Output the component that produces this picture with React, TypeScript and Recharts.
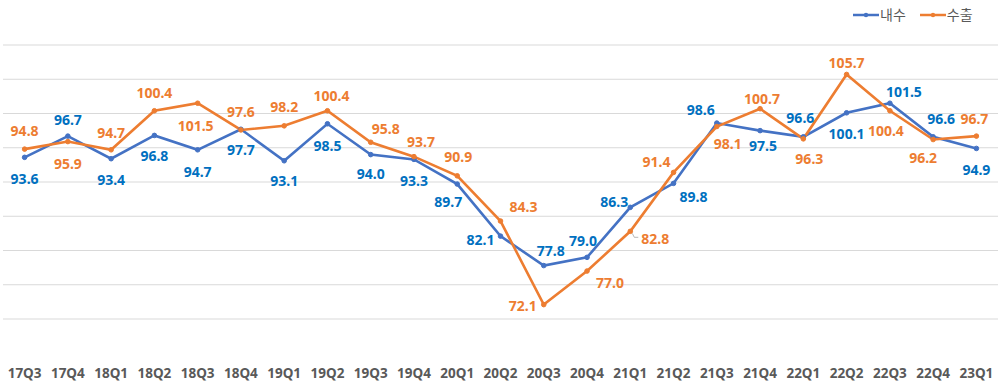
import { CartesianGrid, LabelList, Line, LineChart, XAxis, YAxis } from "recharts";

const quarters = [
  "17Q3", "17Q4", "18Q1", "18Q2", "18Q3", "18Q4", "19Q1", "19Q2", "19Q3", "19Q4", "20Q1", "20Q2",
  "20Q3", "20Q4", "21Q1", "21Q2", "21Q3", "21Q4", "22Q1", "22Q2", "22Q3", "22Q4", "23Q1",
];

const domestic = [
  93.6, 96.7, 93.4, 96.8, 94.7, 97.7, 93.1, 98.5, 94.0, 93.3, 89.7, 82.1,
  77.8, 79.0, 86.3, 89.8, 98.6, 97.5, 96.6, 100.1, 101.5, 96.6, 94.9,
];

const exports = [
  94.8, 95.9, 94.7, 100.4, 101.5, 97.6, 98.2, 100.4, 95.8, 93.7, 90.9, 84.3,
  72.1, 77.0, 82.8, 91.4, 98.1, 100.7, 96.3, 105.7, 100.4, 96.2, 96.7,
];

const yTicks = [70, 75, 80, 85, 90, 95, 100, 105, 110];

const rows = quarters.map((q, i) => ({ q, domestic: domestic[i], exports: exports[i] }));

const BLUE = "#4472C4";
const BLUE_TEXT = "#0070C0";
const ORANGE = "#ED7D31";
const FONT = "'Noto Sans', 'Noto Sans CJK KR', sans-serif";

// label placement relative to each point [dx, dy] (excel-style manual positioning)
const blueOffsets: [number, number][] = [
  [0, 22], [0, -16], [0, 21], [0, 21], [0, 22], [0, 21], [0, 20], [0, 22], [0, 19], [0, 22], [-9, 18], [-20, 4],
  [7, -14], [-4, -16], [-16, -5], [20, 14], [-16, -13], [3, 15], [-3, -19], [0, 21], [14, -11], [8, -18], [0, 22],
];
const orangeOffsets: [number, number][] = [
  [0, -18], [0, 23], [0, -17], [0, -18], [-2, 23], [0, -18], [0, -19], [4, -15], [15, -13], [7, -15], [1, -19], [23, -14],
  [-21, 1], [23, 12], [25, 8], [-17, -10], [11, 18], [2, -10], [6, 20], [0, -11], [-4, 20], [-10, 19], [-2, -17],
];

function makeLabel(offsets: [number, number][], color: string, leaderAt: number[] = []) {
  return (props: any) => {
    const { x, y, value, index } = props;
    const [dx, dy] = offsets[index] ?? [0, -16];
    return (
      <g>
        {leaderAt.includes(index) && (
          <polyline
            points={`${x + 2},${y + 2} ${x + 4},${y + 6} ${x + 8},${y + 6}`}
            fill="none"
            stroke="#a6a6a6"
            strokeWidth={0.8}
          />
        )}
        <text
          x={x + dx}
          y={y + dy}
          dy="0.35em"
          textAnchor="middle"
          fill={color}
          fontSize={14}
          fontWeight={700}
          fontFamily={FONT}
        >
          {Number(value).toFixed(1)}
        </text>
      </g>
    );
  };
}

function QuarterTick(props: any) {
  const { x, y, payload } = props;
  return (
    <text x={x} y={y + 54} dy="0.35em" textAnchor="middle" fill="#595959" fontSize={13.5} fontWeight={700} fontFamily={FONT}>
      {payload.value}
    </text>
  );
}

function LegendBox() {
  const items = [
    { name: "내수", color: BLUE },
    { name: "수출", color: ORANGE },
  ];
  return (
    <div
      style={{
        position: "absolute",
        top: 5,
        left: 853,
        display: "flex",
        gap: 14,
        fontFamily: FONT,
      }}
    >
      {items.map((it) => (
        <div key={it.name} style={{ display: "flex", alignItems: "center", gap: 1 }}>
          <svg width={26} height={10}>
            <line x1={0} y1={5} x2={26} y2={5} stroke={it.color} strokeWidth={2.5} />
            <circle cx={13} cy={5} r={2.2} fill={it.color} />
          </svg>
          <span style={{ fontSize: 14, color: "#595959", lineHeight: "20px" }}>{it.name}</span>
        </div>
      ))}
    </div>
  );
}

export default function App() {
  return (
    <div style={{ position: "absolute", left: 0, top: 0, width: 1000, height: 381, background: "#fff" }}>
      <LineChart width={1000} height={381} data={rows} margin={{ top: 45, right: 2, bottom: 0, left: 3 }}>
        <CartesianGrid vertical={false} stroke="#d9d9d9" strokeWidth={1} />
        <XAxis
          dataKey="q"
          axisLine={false}
          tickLine={false}
          tickSize={0}
          tickMargin={0}
          height={62}
          interval={0}
          padding={{ left: 21.6, right: 21.6 }}
          tick={<QuarterTick />}
        />
        <YAxis hide domain={[70, 110]} ticks={yTicks} />
        <Line
          dataKey="domestic"
          name="내수"
          stroke={BLUE}
          strokeWidth={2.6}
          dot={{ r: 2.3, fill: BLUE, stroke: BLUE, strokeWidth: 1 }}
          isAnimationActive={false}
        >
          <LabelList dataKey="domestic" content={makeLabel(blueOffsets, BLUE_TEXT)} />
        </Line>
        <Line
          dataKey="exports"
          name="수출"
          stroke={ORANGE}
          strokeWidth={2.6}
          dot={{ r: 2.3, fill: ORANGE, stroke: ORANGE, strokeWidth: 1 }}
          isAnimationActive={false}
        >
          <LabelList dataKey="exports" content={makeLabel(orangeOffsets, ORANGE, [14])} />
        </Line>
      </LineChart>
      <LegendBox />
    </div>
  );
}
